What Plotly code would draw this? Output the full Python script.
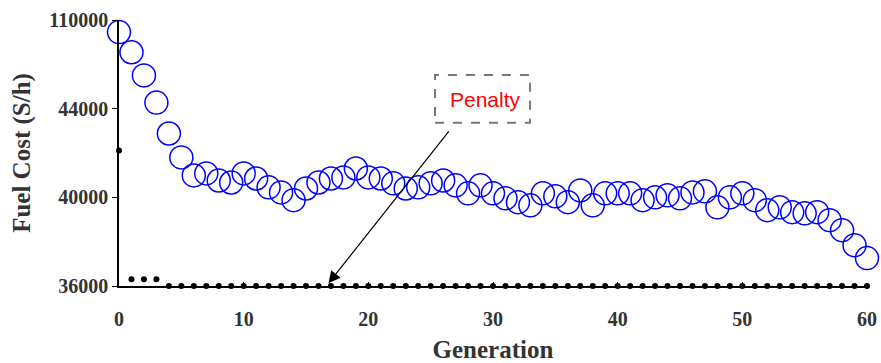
import numpy as np
import plotly.graph_objects as go

# ---- data ----
generation = list(range(61))
fuel_cost = [101000, 86000, 68750, 48500, 42880, 41800, 40990, 41080, 40760, 40670,
             41080, 40850, 40450, 40220, 39870, 40400, 40670, 40850, 40900, 41300,
             40900, 40850, 40630, 40400, 40450, 40630, 40760, 40540, 40180, 40540,
             40180, 39955, 39780, 39640, 40180, 40045, 39780, 40310, 39640, 40180,
             40180, 40180, 39870, 40000, 40090, 39955, 40220, 40270, 39550, 40000,
             40180, 39870, 39420, 39550, 39330, 39280, 39330, 38970, 38520, 37840,
             37260]
penalty = [42110, 36300, 36300, 36300] + [36000] * 57
y_tick_values = [36000, 40000, 44000, 110000]
y_tick_labels = ["36000", "40000", "44000", "110000"]
x_tick_values = [0, 10, 20, 30, 40, 50, 60]

# broken (piecewise-linear) y scale: each labelled tick is one equal step
def ypos(v):
    return np.interp(v, y_tick_values, list(range(len(y_tick_values))))

TXT = "#333333"
SERIF = "Liberation Serif, Times New Roman, serif"

fig = go.Figure()
fig.add_trace(go.Scatter(
    x=generation, y=ypos(fuel_cost), mode="markers", cliponaxis=False,
    marker=dict(symbol="circle-open", size=23, color="#0000ff", line=dict(width=1.5, color="#0000ff")),
    showlegend=False))
fig.add_trace(go.Scatter(
    x=generation, y=ypos(penalty), mode="markers", cliponaxis=False,
    marker=dict(symbol="circle", size=6, color="black"),
    showlegend=False))

fig.update_layout(
    width=881, height=363,
    margin=dict(l=119, r=14, t=20, b=77),
    paper_bgcolor="white", plot_bgcolor="white",
    xaxis=dict(range=[0, 60], tickvals=x_tick_values, ticks="inside", ticklen=4,
               tickcolor="black", showline=True, linecolor="black", linewidth=1.5,
               showgrid=False, zeroline=False, automargin=False,
               tickfont=dict(family=SERIF, size=20, color=TXT, weight="bold"),
               ticklabelstandoff=14,
               title=dict(text="Generation", standoff=14,
                          font=dict(family=SERIF, size=25, color=TXT, weight="bold"))),
    yaxis=dict(range=[0, 3], tickvals=list(ypos(y_tick_values)), ticktext=y_tick_labels,
               ticks="outside", ticklen=5, tickcolor="black",
               showline=True, linecolor="black", linewidth=1.5,
               showgrid=False, zeroline=False, automargin=False,
               tickfont=dict(family=SERIF, size=20, color=TXT, weight="bold"),
               title=dict(text="Fuel Cost (S/h)", standoff=12,
                          font=dict(family=SERIF, size=25, color=TXT, weight="bold"))),
)

# dashed box around the label
fig.add_shape(type="rect", xref="x", yref="y", x0=25.35, x1=32.97, y0=1.84, y1=2.38,
              line=dict(color="#777777", width=2, dash="dash"), fillcolor="rgba(0,0,0,0)")
fig.add_annotation(x=29.36, y=2.10, xref="x", yref="y", text="Penalty", showarrow=False,
                   font=dict(family="Liberation Sans, Arial, sans-serif", size=21, color="#ff0000"))
# arrow pointing at the penalty dots
fig.add_annotation(x=16.8, y=ypos(36000) + 0.03, xref="x", yref="y",
                   ax=26.55, ay=1.76, axref="x", ayref="y", text="",
                   showarrow=True, arrowhead=2, arrowsize=2, arrowwidth=1.2, arrowcolor="black")

fig.write_html("out.html")
